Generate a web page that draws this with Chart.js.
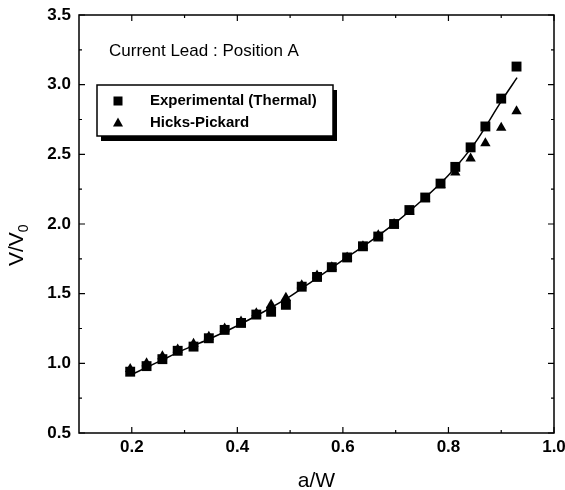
<!DOCTYPE html>
<html>
<head>
<meta charset="utf-8">
<script src="https://cdn.jsdelivr.net/npm/chart.js@4"></script>
<style>
  html, body { margin: 0; padding: 0; background: #fff; }
  #wrap { width: 565px; height: 490px; }
</style>
</head>
<body>
<div id="wrap"><canvas id="chart" width="565" height="490"></canvas></div>
<script>
// data
const aW = [0.197, 0.228, 0.258, 0.287, 0.317, 0.346, 0.376, 0.407, 0.436, 0.464, 0.492, 0.522, 0.551,
            0.579, 0.608, 0.638, 0.667, 0.697, 0.726, 0.756, 0.785, 0.813, 0.842, 0.870, 0.900, 0.929];
const expThermal = [0.94, 0.98, 1.03, 1.09, 1.12, 1.18, 1.24, 1.29, 1.35, 1.37, 1.42, 1.55, 1.62,
                    1.69, 1.76, 1.84, 1.91, 2.00, 2.10, 2.19, 2.29, 2.41, 2.55, 2.70, 2.90, 3.13];
const hicksPickard = [0.96, 1.00, 1.05, 1.10, 1.14, 1.19, 1.25, 1.30, 1.36, 1.42, 1.47, 1.56, 1.63,
                      1.69, 1.76, 1.84, 1.92, 2.00, 2.09, 2.18, 2.28, 2.37, 2.47, 2.58, 2.69, 2.81];
const fitX = [0.2, 0.25, 0.3, 0.35, 0.4, 0.45, 0.5, 0.55, 0.6, 0.65, 0.7, 0.75, 0.8, 0.85, 0.9, 0.93];
const fitY = [0.92, 1.01, 1.10, 1.18, 1.27, 1.37, 1.48, 1.61, 1.74, 1.87, 2.01, 2.17, 2.35, 2.58, 2.88, 3.05];

const xTicks = [0.2, 0.4, 0.6, 0.8, 1.0];
const xMinor = [0.3, 0.5, 0.7, 0.9];
const yTicks = [0.5, 1.0, 1.5, 2.0, 2.5, 3.0, 3.5];
const yMinor = [0.75, 1.25, 1.75, 2.25, 2.75, 3.25];

const seriesNames = ["Experimental (Thermal)", "Hicks-Pickard"];
const noteText = "Current Lead : Position A";

const FONT = "'Liberation Sans', Arial, sans-serif";

const toPts = (xs, ys) => xs.map((x, i) => ({ x: x, y: ys[i] }));

// frame, inward ticks, labels, legend box
const decor = {
  id: "decor",
  afterDraw(chart) {
    const ctx = chart.ctx;
    const a = chart.chartArea;
    const xs = chart.scales.x, ys = chart.scales.y;
    ctx.save();
    ctx.strokeStyle = "#000";
    ctx.fillStyle = "#000";
    ctx.lineWidth = 1.5;
    ctx.strokeRect(a.left, a.top, a.right - a.left, a.bottom - a.top);

    ctx.lineWidth = 1.2;
    ctx.beginPath();
    xTicks.concat(xMinor).forEach(v => {
      const p = xs.getPixelForValue(v);
      const len = xTicks.includes(v) ? 6 : 3;
      ctx.moveTo(p, a.bottom); ctx.lineTo(p, a.bottom - len);
      ctx.moveTo(p, a.top); ctx.lineTo(p, a.top + len);
    });
    yTicks.concat(yMinor).forEach(v => {
      const p = ys.getPixelForValue(v);
      const len = yTicks.includes(v) ? 6 : 3;
      ctx.moveTo(a.left, p); ctx.lineTo(a.left + len, p);
      ctx.moveTo(a.right, p); ctx.lineTo(a.right - len, p);
    });
    ctx.stroke();

    // tick labels
    ctx.font = "bold 17px " + FONT;
    ctx.textAlign = "center";
    ctx.textBaseline = "alphabetic";
    xTicks.forEach(v => ctx.fillText(v.toFixed(1), xs.getPixelForValue(v), a.bottom + 19));
    ctx.textAlign = "right";
    ctx.textBaseline = "middle";
    yTicks.forEach(v => ctx.fillText(v.toFixed(1), a.left - 8, ys.getPixelForValue(v)));

    // axis titles
    ctx.font = "21px " + FONT;
    ctx.textAlign = "center";
    ctx.textBaseline = "alphabetic";
    ctx.fillText("a/W", (a.left + a.right) / 2, 487);

    ctx.save();
    ctx.translate(23, 266);
    ctx.rotate(-Math.PI / 2);
    ctx.textAlign = "left";
    ctx.fillText("V/V", 0, 0);
    const w = ctx.measureText("V/V").width;
    ctx.font = "14px " + FONT;
    ctx.fillText("0", w, 4.5);
    ctx.restore();

    // note
    ctx.font = "17px " + FONT;
    ctx.textAlign = "left";
    ctx.fillText(noteText, 109, 56);

    // legend box with drop shadow
    const bx = 97, by = 85, bw = 236, bh = 51;
    ctx.fillRect(bx + 4, by + 5, bw, bh);
    ctx.fillStyle = "#fff";
    ctx.fillRect(bx, by, bw, bh);
    ctx.lineWidth = 1.5;
    ctx.strokeRect(bx, by, bw, bh);
    ctx.fillStyle = "#000";
    ctx.fillRect(118 - 4.5, 101 - 4.5, 9, 9);
    ctx.beginPath();
    ctx.moveTo(118, 123 - 5.5);
    ctx.lineTo(118 + 5, 123 + 3.5);
    ctx.lineTo(118 - 5, 123 + 3.5);
    ctx.closePath();
    ctx.fill();
    ctx.font = "bold 15px " + FONT;
    ctx.textBaseline = "middle";
    ctx.fillText(seriesNames[0], 150, 101);
    ctx.fillText(seriesNames[1], 150, 123);
    ctx.restore();
  }
};

new Chart(document.getElementById("chart"), {
  type: "scatter",
  data: {
    datasets: [
      {
        label: "fit",
        type: "line",
        data: toPts(fitX, fitY),
        borderColor: "#000",
        borderWidth: 1.5,
        pointRadius: 0,
        fill: false,
        cubicInterpolationMode: "monotone"
      },
      {
        label: seriesNames[1],
        data: toPts(aW, hicksPickard),
        pointStyle: "triangle",
        pointRadius: 6,
        backgroundColor: "#000",
        borderColor: "#000",
        borderWidth: 0
      },
      {
        label: seriesNames[0],
        data: toPts(aW, expThermal),
        pointStyle: "rect",
        pointRadius: 7,
        backgroundColor: "#000",
        borderColor: "#000",
        borderWidth: 0
      }
    ]
  },
  options: {
    responsive: false,
    animation: false,
    clip: false,
    layout: { padding: { top: 15, right: 11, left: 0, bottom: 0 } },
    plugins: {
      legend: { display: false },
      tooltip: { enabled: false }
    },
    scales: {
      x: {
        type: "linear",
        min: 0.1,
        max: 1.0,
        grid: { display: false },
        border: { display: false },
        ticks: { display: false },
        afterFit: s => { s.height = 57; }
      },
      y: {
        type: "linear",
        min: 0.5,
        max: 3.5,
        grid: { display: false },
        border: { display: false },
        ticks: { display: false },
        afterFit: s => { s.width = 79; }
      }
    }
  },
  plugins: [decor]
});
</script>
</body>
</html>
